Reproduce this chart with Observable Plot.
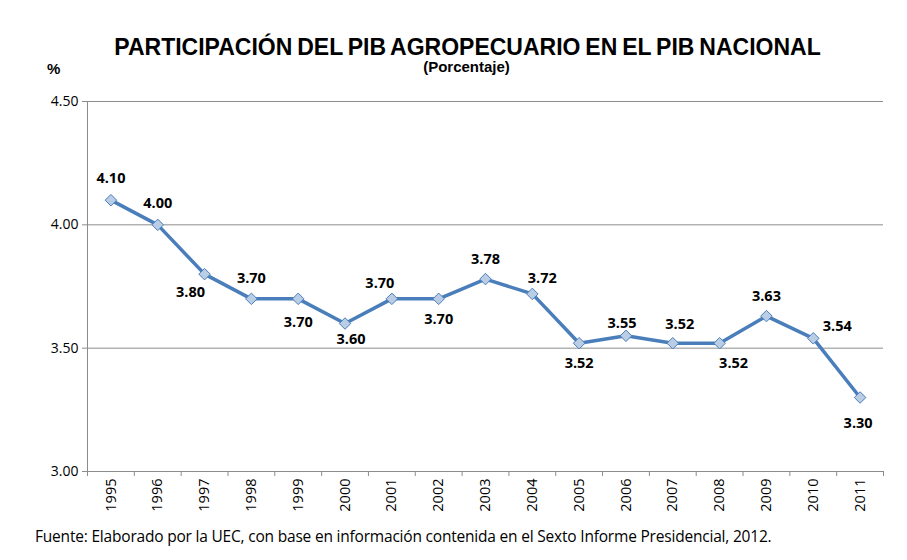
<!DOCTYPE html>
<html>
<head>
<meta charset="utf-8">
<script src="https://cdn.jsdelivr.net/npm/d3@7"></script>
<script src="https://cdn.jsdelivr.net/npm/@observablehq/plot@0.6"></script>
<style>
  body { margin: 0; background: #fff; }
  #wrap { position: relative; width: 907px; height: 560px; overflow: hidden; }
  .t { position: absolute; white-space: nowrap; color: #000; line-height: 1; }
  #title { left: 14px; width: 907px; top: 33.5px; text-align: center; font: bold 23px "Liberation Sans", Arial, sans-serif; letter-spacing: 0px; word-spacing: -1.5px; }
  #subtitle { left: 13px; width: 907px; top: 58px; text-align: center; font: bold 15px "Liberation Sans", Arial, sans-serif; }
  #unit { left: 47px; top: 60px; font: bold 15px "Liberation Sans", Arial, sans-serif; }
  #caption { left: 35px; top: 525px; font: 15.5px "Open Sans", sans-serif; letter-spacing: -0.2px; }
  #chart { position: absolute; left: 0; top: 0; }
</style>
</head>
<body>
<div id="wrap">
  <div id="chart"></div>
  <div class="t" id="title">PARTICIPACIÓN DEL PIB AGROPECUARIO EN EL PIB NACIONAL</div>
  <div class="t" id="subtitle">(Porcentaje)</div>
  <div class="t" id="unit">%</div>
  <div class="t" id="caption">Fuente: Elaborado por la UEC, con base en información contenida en el Sexto Informe Presidencial, 2012.</div>
</div>
<script>
// ---- data ----
const years = [1995, 1996, 1997, 1998, 1999, 2000, 2001, 2002, 2003, 2004, 2005, 2006, 2007, 2008, 2009, 2010, 2011];
const values = [4.10, 4.00, 3.80, 3.70, 3.70, 3.60, 3.70, 3.70, 3.78, 3.72, 3.52, 3.55, 3.52, 3.52, 3.63, 3.54, 3.30];
const labels = ["4.10", "4.00", "3.80", "3.70", "3.70", "3.60", "3.70", "3.70", "3.78", "3.72", "3.52", "3.55", "3.52", "3.52", "3.63", "3.54", "3.30"];
const yTicks = [3.00, 3.50, 4.00, 4.50];

// ---- layout (label placement relative to each point) ----
const labelDx = [0, 0, -14, 0, 0, 6, -12, 0, 0, 10, 0, -4, 7, 14, 0, 24, -2];
const labelDy = [-22, -21, 18, -20, 24, 16, -15, 21, -20, -16, 20, -12, -19, 20, -20, -12, 26];

const data = years.map((y, i) => ({year: y, value: values[i], label: labels[i], i}));
const bounds = d3.range(years[0] - 0.5, years[years.length - 1] + 1, 1);

const font = '"Open Sans", sans-serif';
const gridColor = "#8c8c8c";
const lineColor = "#4a7ebb";

// square rotated 45 degrees (Excel-style diamond marker)
const squareDiamond = {
  draw(context, size) {
    const h = Math.sqrt(size / 2);
    context.moveTo(0, -h);
    context.lineTo(h, 0);
    context.lineTo(0, h);
    context.lineTo(-h, 0);
    context.closePath();
  }
};

const chart = Plot.plot({
  width: 907,
  height: 560,
  marginTop: 101,
  marginBottom: 89,
  marginLeft: 87,
  marginRight: 24,
  style: {fontFamily: font, fontSize: "13.5px", color: "#000", background: "transparent"},
  x: {type: "linear", domain: [years[0] - 0.5, years[years.length - 1] + 0.5]},
  y: {domain: [3.0, 4.5]},
  marks: [
    Plot.ruleY(yTicks, {stroke: gridColor, strokeWidth: 1}),
    Plot.ruleX([years[0] - 0.5], {stroke: gridColor, strokeWidth: 1}),
    Plot.axisY({ticks: yTicks, tickFormat: d3.format(".2f"), tickSize: 5, tickPadding: 4, stroke: gridColor, label: null, fontSize: "14px"}),
    Plot.axisX({ticks: bounds, tickFormat: () => "", tickSize: 5, stroke: gridColor, label: null}),
    Plot.axisX({ticks: years, tickFormat: d => String(d), tickSize: 0, tickPadding: 7, tickRotate: -90, label: null, fontSize: "14.5px"}),
    Plot.line(data, {x: "year", y: "value", stroke: lineColor, strokeWidth: 3.5, strokeLinejoin: "round"}),
    Plot.dot(data, {x: "year", y: "value", symbol: squareDiamond, r: 4.6, fill: "#b9cde5", stroke: lineColor, strokeWidth: 1}),
    Plot.text(data, {
      x: "year", y: "value", text: "label",
      fontWeight: "bold", fontSize: 14.5, fill: "#000"
    })
  ]
});

// apply per-label offsets
d3.select(chart).selectAll("g[aria-label='text'] text").each(function(d, k) {
  const el = d3.select(this);
  const t = el.attr("transform") || "";
  el.attr("transform", t + ` translate(${labelDx[k]},${labelDy[k]})`);
});

document.getElementById("chart").appendChild(chart);
</script>
</body>
</html>
